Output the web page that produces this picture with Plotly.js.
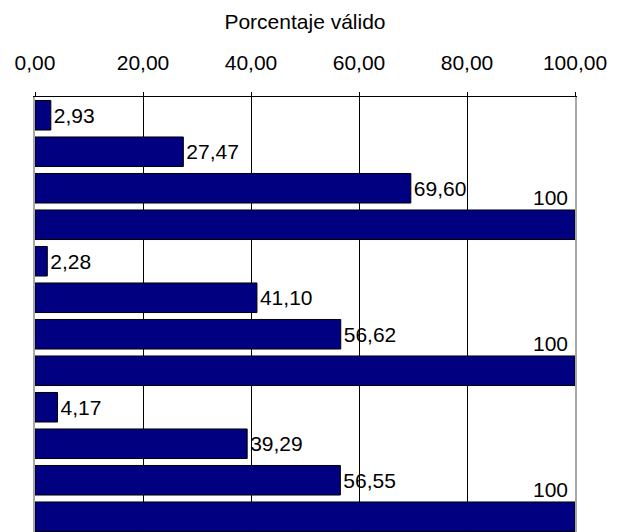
<!DOCTYPE html>
<html>
<head>
<meta charset="utf-8">
<script src="https://cdn.plot.ly/plotly-3.0.1.min.js"></script>
<style>
html, body { margin: 0; padding: 0; overflow: hidden; background: #fff; }
#chart { width: 618px; height: 540px; }
</style>
</head>
<body>
<div id="chart"></div>
<script>
// Data
const categories = ['A1', 'A2', 'A3', 'A4', 'B1', 'B2', 'B3', 'B4', 'C1', 'C2', 'C3', 'C4'];
const values = [2.93, 27.47, 69.60, 100, 2.28, 41.10, 56.62, 100, 4.17, 39.29, 56.55, 100];
const tickValues = [0, 20, 40, 60, 80, 100];
const tickLabels = ['0,00', '20,00', '40,00', '60,00', '80,00', '100,00'];
const gridValues = [20, 40, 60, 80];
const axisTitle = 'Porcentaje válido';

const fmt = v => v.toFixed(2).replace('.', ',');
const FONT = 'Liberation Sans, Arial, sans-serif';
const FS = 21;

const barText = values.map(v => (v >= 100 ? '' : fmt(v)));

const trace = {
  type: 'bar',
  orientation: 'h',
  y: categories,
  x: values,
  text: barText,
  textposition: 'outside',
  constraintext: 'none',
  cliponaxis: false,
  textfont: { family: FONT, size: FS, color: '#000' },
  marker: { color: '#000080', line: { color: '#000', width: 1 } },
  hoverinfo: 'none'
};

const annotations = [];
values.forEach((v, i) => {
  if (v >= 100) {
    annotations.push({
      x: v, y: categories[i], xref: 'x', yref: 'y',
      text: String(v), showarrow: false,
      xanchor: 'right', yanchor: 'middle',
      xshift: -5, yshift: 27,
      font: { family: FONT, size: FS, color: '#000' }
    });
  }
});

const layout = {
  width: 618, height: 540,
  margin: { l: 35, r: 43, t: 97, b: 5, pad: 0 },
  paper_bgcolor: '#fff', plot_bgcolor: '#fff',
  showlegend: false,
  bargap: 0.19,
  font: { family: FONT, size: FS, color: '#000' },
  title: {
    text: axisTitle,
    x: 0.5, xref: 'paper', xanchor: 'center',
    y: 1 - 22 / 540, yref: 'container', yanchor: 'middle',
    font: { family: FONT, size: FS, color: '#000' }
  },
  xaxis: {
    side: 'top',
    range: [0, 100],
    tickmode: 'array',
    tickvals: tickValues,
    ticktext: tickLabels,
    ticks: 'outside', ticklen: 4, tickcolor: '#000', tickwidth: 1,
    ticklabelstandoff: 14,
    showline: true, linecolor: '#000', linewidth: 1,
    showgrid: false,
    minor: { tickmode: 'array', tickvals: gridValues, showgrid: true, gridcolor: '#000', gridwidth: 1, ticks: '' },
    zeroline: false,
    tickfont: { family: FONT, size: FS, color: '#000' },
    fixedrange: true
  },
  yaxis: {
    type: 'category',
    categoryorder: 'array', categoryarray: categories,
    range: [11.5, -0.5],
    showticklabels: false, ticks: '',
    showgrid: false, zeroline: false,
    showline: true, mirror: true, linecolor: '#a8a8a8', linewidth: 2,
    fixedrange: true
  },
  annotations: annotations
};

Plotly.newPlot('chart', [trace], layout, { displayModeBar: false, staticPlot: true });
</script>
</body>
</html>
